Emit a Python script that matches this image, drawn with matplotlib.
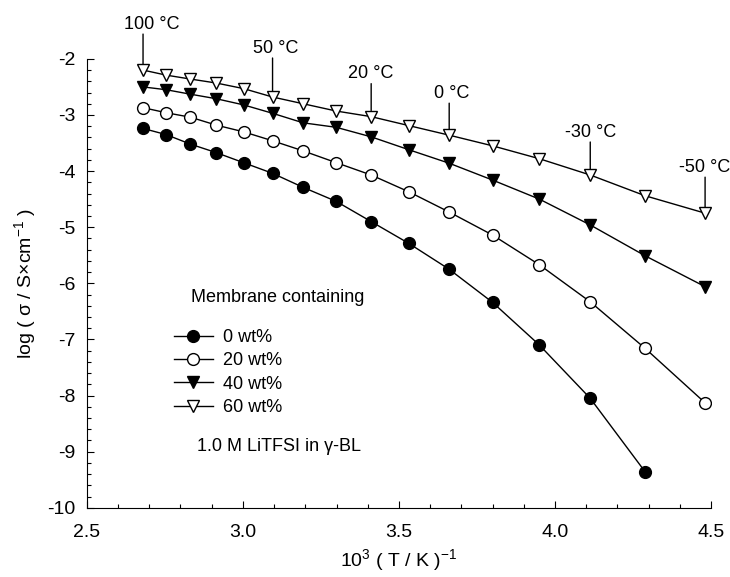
import matplotlib
matplotlib.use("Agg")
import matplotlib.pyplot as plt
from matplotlib.ticker import MultipleLocator, FormatStrFormatter

plt.rcParams["font.family"] = ["Liberation Sans", "DejaVu Sans"]
plt.rcParams["mathtext.fontset"] = "custom"
plt.rcParams["mathtext.rm"] = "Liberation Sans"
plt.rcParams["mathtext.it"] = "Liberation Sans:italic"
plt.rcParams["mathtext.bf"] = "Liberation Sans:bold"

# 1000/T, 100 °C ... -50 °C in 10 °C steps
inv_T = [2.68, 2.754, 2.832, 2.914, 3.002, 3.095, 3.193, 3.299,
         3.411, 3.532, 3.661, 3.800, 3.950, 4.113, 4.289, 4.481]

# log(sigma / S cm-1)
wt0 = [-3.24, -3.35, -3.52, -3.67, -3.85, -4.04, -4.29, -4.54,
       -4.90, -5.29, -5.75, -6.34, -7.10, -8.05, -9.36]
wt20 = [-2.87, -2.96, -3.04, -3.18, -3.30, -3.46, -3.64, -3.85,
        -4.07, -4.37, -4.73, -5.14, -5.67, -6.33, -7.16, -8.13]
wt40 = [-2.50, -2.55, -2.63, -2.71, -2.82, -2.97, -3.14, -3.22,
        -3.39, -3.62, -3.86, -4.16, -4.50, -4.96, -5.51, -6.06]
wt60 = [-2.20, -2.29, -2.36, -2.43, -2.53, -2.68, -2.80, -2.93,
        -3.03, -3.19, -3.36, -3.55, -3.78, -4.07, -4.44, -4.75]

series_labels = ["0 wt%", "20 wt%", "40 wt%", "60 wt%"]

# temperature marks on the 60 wt% curve
temp_labels = ["100 °C", "50 °C", "20 °C", "0 °C", "-30 °C", "-50 °C"]
temp_idx = [0, 5, 8, 10, 13, 15]
stick_len = [30, 33, 27, 26, 27, 30]  # px
text_dx = [9, 3, 0, 2, 0, 0]  # px

fig = plt.figure(figsize=(7.3, 5.77), dpi=100)
ax = fig.add_axes([0.119, 0.12, 0.855, 0.778])

ms = 8.5
ax.plot(inv_T[:len(wt0)], wt0, color="black", lw=1, marker="o", ms=ms,
        mfc="black", mec="black", label=series_labels[0])
ax.plot(inv_T, wt20, color="black", lw=1, marker="o", ms=ms,
        mfc="white", mec="black", label=series_labels[1])
ax.plot(inv_T, wt40, color="black", lw=1, marker="v", ms=ms,
        mfc="black", mec="black", label=series_labels[2])
ax.plot(inv_T, wt60, color="black", lw=1, marker="v", ms=ms,
        mfc="white", mec="black", label=series_labels[3])

px = 0.72  # points per pixel at 100 dpi
for lab, i, L, dx in zip(temp_labels, temp_idx, stick_len, text_dx):
    x, y = inv_T[i], wt60[i]
    ax.annotate("", xy=(x, y), xytext=(0, (6 + L) * px), textcoords="offset points",
                arrowprops=dict(arrowstyle="-", lw=1, color="black",
                                shrinkA=0, shrinkB=6 * px))
    ax.annotate(lab, xy=(x, y), xytext=(dx * px, (6 + L + 10) * px),
                textcoords="offset points", ha="center", va="center", fontsize=13)

ax.text(3.11, -6.26, "Membrane containing", ha="center", va="center", fontsize=13)
ax.text(3.115, -8.90, "1.0 M LiTFSI in γ-BL", ha="center", va="center", fontsize=13)

ax.legend(loc="upper left", bbox_to_anchor=(0.139, 0.398), frameon=False,
          fontsize=13, handlelength=2.2, handletextpad=0.55, labelspacing=0.35,
          borderpad=0, borderaxespad=0)

ax.set_xlim(2.5, 4.5)
ax.set_ylim(-10, -2)
ax.xaxis.set_major_locator(MultipleLocator(0.5))
ax.xaxis.set_minor_locator(MultipleLocator(0.1))
ax.yaxis.set_major_locator(MultipleLocator(1))
ax.yaxis.set_minor_locator(MultipleLocator(0.2))
ax.xaxis.set_major_formatter(FormatStrFormatter("%.1f"))
ax.yaxis.set_major_formatter(FormatStrFormatter("%d"))
ax.tick_params(which="both", direction="in", width=0.8, labelsize=14)
ax.tick_params(axis="x", which="major", length=5, pad=12)
ax.tick_params(axis="x", which="minor", length=3)
ax.tick_params(axis="y", which="major", length=5, pad=8)
ax.tick_params(axis="y", which="minor", length=3)
for s in ["top", "right"]:
    ax.spines[s].set_visible(False)
for s in ["left", "bottom"]:
    ax.spines[s].set_linewidth(0.8)

ax.set_xlabel("$10^3$ ( T / K )$^{-1}$", fontsize=14, labelpad=4)
ax.set_ylabel("log ( σ / S×cm$^{-1}$ )", fontsize=14, labelpad=7)

fig.savefig("out.png", dpi=100)
